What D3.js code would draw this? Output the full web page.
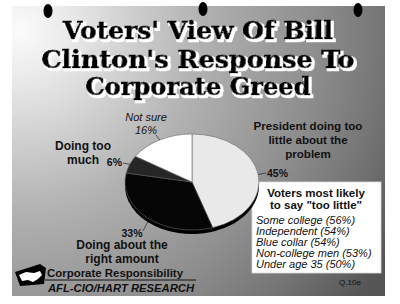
<!DOCTYPE html>
<html>
<head>
<meta charset="utf-8">
<script src="https://cdn.jsdelivr.net/npm/d3@7"></script>
<style>
  body { margin: 0; background: #fff; }
  svg { display: block; }
</style>
</head>
<body>
<svg></svg>
<script>
const width = 400;
const height = 304;

// data
const titleLines = ["Voters' View Of Bill", "Clinton's Response To", "Corporate Greed"];
const categories = ["President doing too little about the problem", "Doing about the right amount", "Doing too much", "Not sure"];
const values = [45, 33, 6, 16];
const sliceColors = ["#e9e9e9", "#050505", "#262626", "#ffffff"];
const boxTitle = ["Voters most likely", "to say \"too little\""];
const groups = ["Some college", "Independent", "Blue collar", "Non-college men", "Under age 35"];
const groupValues = [56, 54, 54, 53, 50];

const svg = d3.select("svg").attr("width", width).attr("height", height);
const defs = svg.append("defs");

//background panel
const grad = defs.append("radialGradient")
  .attr("id", "bg")
  .attr("gradientUnits", "userSpaceOnUse")
  .attr("cx", 20).attr("cy", 30).attr("r", 430);
[[0, "#fbfbfb"], [0.1, "#ececec"], [0.42, "#b2b2b2"], [0.7, "#8c8c8c"], [0.85, "#747474"], [1, "#565656"]]
  .forEach(s => grad.append("stop").attr("offset", s[0]).attr("stop-color", s[1]));

//white shadow behind the title
const shadow = defs.append("filter")
  .attr("id", "shadow")
  .attr("x", "-10%").attr("y", "-20%")
  .attr("width", "120%").attr("height", "150%");
shadow.append("feMorphology")
  .attr("in", "SourceAlpha").attr("operator", "dilate").attr("radius", 0.8)
  .attr("result", "fat");
shadow.append("feOffset").attr("in", "fat").attr("dx", 1.6).attr("dy", 1.6).attr("result", "off");
shadow.append("feFlood").attr("flood-color", "#fff");
shadow.append("feComposite").attr("in2", "off").attr("operator", "in").attr("result", "white");
const merge = shadow.append("feMerge");
merge.append("feMergeNode").attr("in", "white");
merge.append("feMergeNode").attr("in", "SourceGraphic");

svg.append("rect")
  .attr("x", 12).attr("y", 6)
  .attr("width", 373).attr("height", 290)
  .attr("fill", "url(#bg)");

//binder holes
[[48, 11], [203, 9], [358, 10]].forEach(p => {
  svg.append("ellipse")
    .attr("cx", p[0]).attr("cy", p[1])
    .attr("rx", 4.5).attr("ry", 7)
    .attr("fill", "#000");
});

//title
const titleX = 198;
const titleY = [39, 68, 95];
const titleW = [270, 313, 225];
svg.append("g")
  .attr("filter", "url(#shadow)")
  .selectAll("text")
  .data(titleLines)
  .enter()
  .append("text")
  .attr("x", titleX)
  .attr("y", (d, i) => titleY[i])
  .attr("text-anchor", "middle")
  .attr("font-family", "DejaVu Serif")
  .attr("font-weight", "bold")
  .attr("font-size", 24)
  .attr("textLength", (d, i) => titleW[i])
  .attr("lengthAdjust", "spacingAndGlyphs")
  .attr("fill", "#000")
  .attr("stroke", "#000")
  .attr("stroke-width", 0.7)
  .text(d => d);

//box of groups
svg.append("rect")
  .attr("x", 252).attr("y", 182)
  .attr("width", 129).attr("height", 91)
  .attr("fill", "#fff")
  .attr("stroke", "#ddd")
  .attr("stroke-width", 0.8);

boxTitle.forEach((t, i) => {
  svg.append("text")
    .attr("x", 316).attr("y", 197 + i * 12)
    .attr("text-anchor", "middle")
    .attr("font-family", "Liberation Sans, Arial, sans-serif")
    .attr("font-weight", "bold")
    .attr("font-size", 11.5)
    .attr("fill", "#111")
    .text(t);
});

groups.forEach((g, i) => {
  svg.append("text")
    .attr("x", 256).attr("y", 224 + i * 11)
    .attr("font-family", "Liberation Sans, Arial, sans-serif")
    .attr("font-style", "italic")
    .attr("font-size", 11)
    .attr("fill", "#111")
    .text(`${g} (${groupValues[i]}%)`);
});

//pie
const cx = 192, cy = 182, rx = 67, ry = 48, depth = 4;
const pie = d3.pie().sort(null).value(d => d)(values);
const arc = d3.arc().innerRadius(0).outerRadius(rx);

const sideG = svg.append("g")
  .attr("transform", `translate(${cx},${cy + depth}) scale(1,${ry / rx})`);
sideG.selectAll("path")
  .data(pie)
  .enter()
  .append("path")
  .attr("d", arc)
  .attr("fill", "#000");

const topG = svg.append("g")
  .attr("transform", `translate(${cx},${cy}) scale(1,${ry / rx})`);
topG.selectAll("path")
  .data(pie)
  .enter()
  .append("path")
  .attr("d", arc)
  .attr("fill", (d, i) => sliceColors[i])
  .attr("stroke", "#666")
  .attr("stroke-width", 0.6)
  .attr("vector-effect", "non-scaling-stroke");

//point on the pie rim for a slice
function rim(d, extra) {
  const a = (d.startAngle + d.endAngle) / 2;
  return [cx + rx * Math.sin(a), cy - ry * Math.cos(a) + (extra || 0)];
}

//leader lines from the rim to the labels
const labelFont = "Liberation Sans, Arial, sans-serif";
const leaders = [
  { end: [266, 173], extra: 0 },
  { end: [143, 231], extra: depth },
  { end: [123, 163], extra: 0 },
  { end: [156, 135], extra: 0 }
];
leaders.forEach((l, i) => {
  const p = rim(pie[i], l.extra);
  svg.append("line")
    .attr("x1", p[0]).attr("y1", p[1])
    .attr("x2", l.end[0]).attr("y2", l.end[1])
    .attr("stroke", "#333")
    .attr("stroke-width", 0.8);
});

function label(x, y, t, opts) {
  svg.append("text")
    .attr("x", x).attr("y", y)
    .attr("text-anchor", opts.anchor || "middle")
    .attr("font-family", labelFont)
    .attr("font-weight", opts.bold ? "bold" : "normal")
    .attr("font-style", opts.italic ? "italic" : "normal")
    .attr("font-size", opts.size || 12)
    .attr("fill", "#111")
    .text(t);
}

// 45%
label(308, 130, "President doing too", { bold: true, size: 11.6 });
label(308, 144, "little about the", { bold: true, size: 11.6 });
label(308, 158, "problem", { bold: true, size: 11.6 });
label(267, 177, values[0] + "%", { bold: true, size: 10.5, anchor: "start" });

// 33%
label(132, 237, values[1] + "%", { bold: true, size: 10.5 });
label(122, 249, "Doing about the", { bold: true, size: 12 });
label(122, 262.5, "right amount", { bold: true, size: 12 });

// 6%
label(83, 150, "Doing too", { bold: true, size: 12 });
label(83, 164, "much", { bold: true, size: 12 });
label(122, 166, values[2] + "%", { bold: true, size: 10.5, anchor: "end" });

// 16%
label(146, 121, "Not sure", { italic: true, size: 11 });
label(146, 134, values[3] + "%", { italic: true, size: 11 });

//question number
label(350, 285, "Q.10e", { size: 8 });

//footer logo
svg.append("path")
  .attr("d", "M15,272 L40,264 L46,268 L44,284 L20,286 Z")
  .attr("fill", "#000");
svg.append("path")
  .attr("d", "M19,275 L26,272 L34,273 L40,271 L42,275 L38,279 L33,282 L28,280 L22,281 Z")
  .attr("fill", "#fff");

svg.append("line")
  .attr("x1", 45).attr("x2", 196)
  .attr("y1", 280).attr("y2", 280)
  .attr("stroke", "#111")
  .attr("stroke-width", 1);
svg.append("text")
  .attr("x", 47).attr("y", 277)
  .attr("font-family", labelFont)
  .attr("font-weight", "bold")
  .attr("font-size", 10.5)
  .attr("textLength", 136)
  .attr("lengthAdjust", "spacingAndGlyphs")
  .attr("fill", "#111")
  .text("Corporate Responsibility");
svg.append("text")
  .attr("x", 48).attr("y", 292)
  .attr("font-family", labelFont)
  .attr("font-weight", "bold")
  .attr("font-style", "italic")
  .attr("font-size", 11)
  .attr("textLength", 146)
  .attr("lengthAdjust", "spacingAndGlyphs")
  .attr("fill", "#111")
  .text("AFL-CIO/HART RESEARCH");
</script>
</body>
</html>
